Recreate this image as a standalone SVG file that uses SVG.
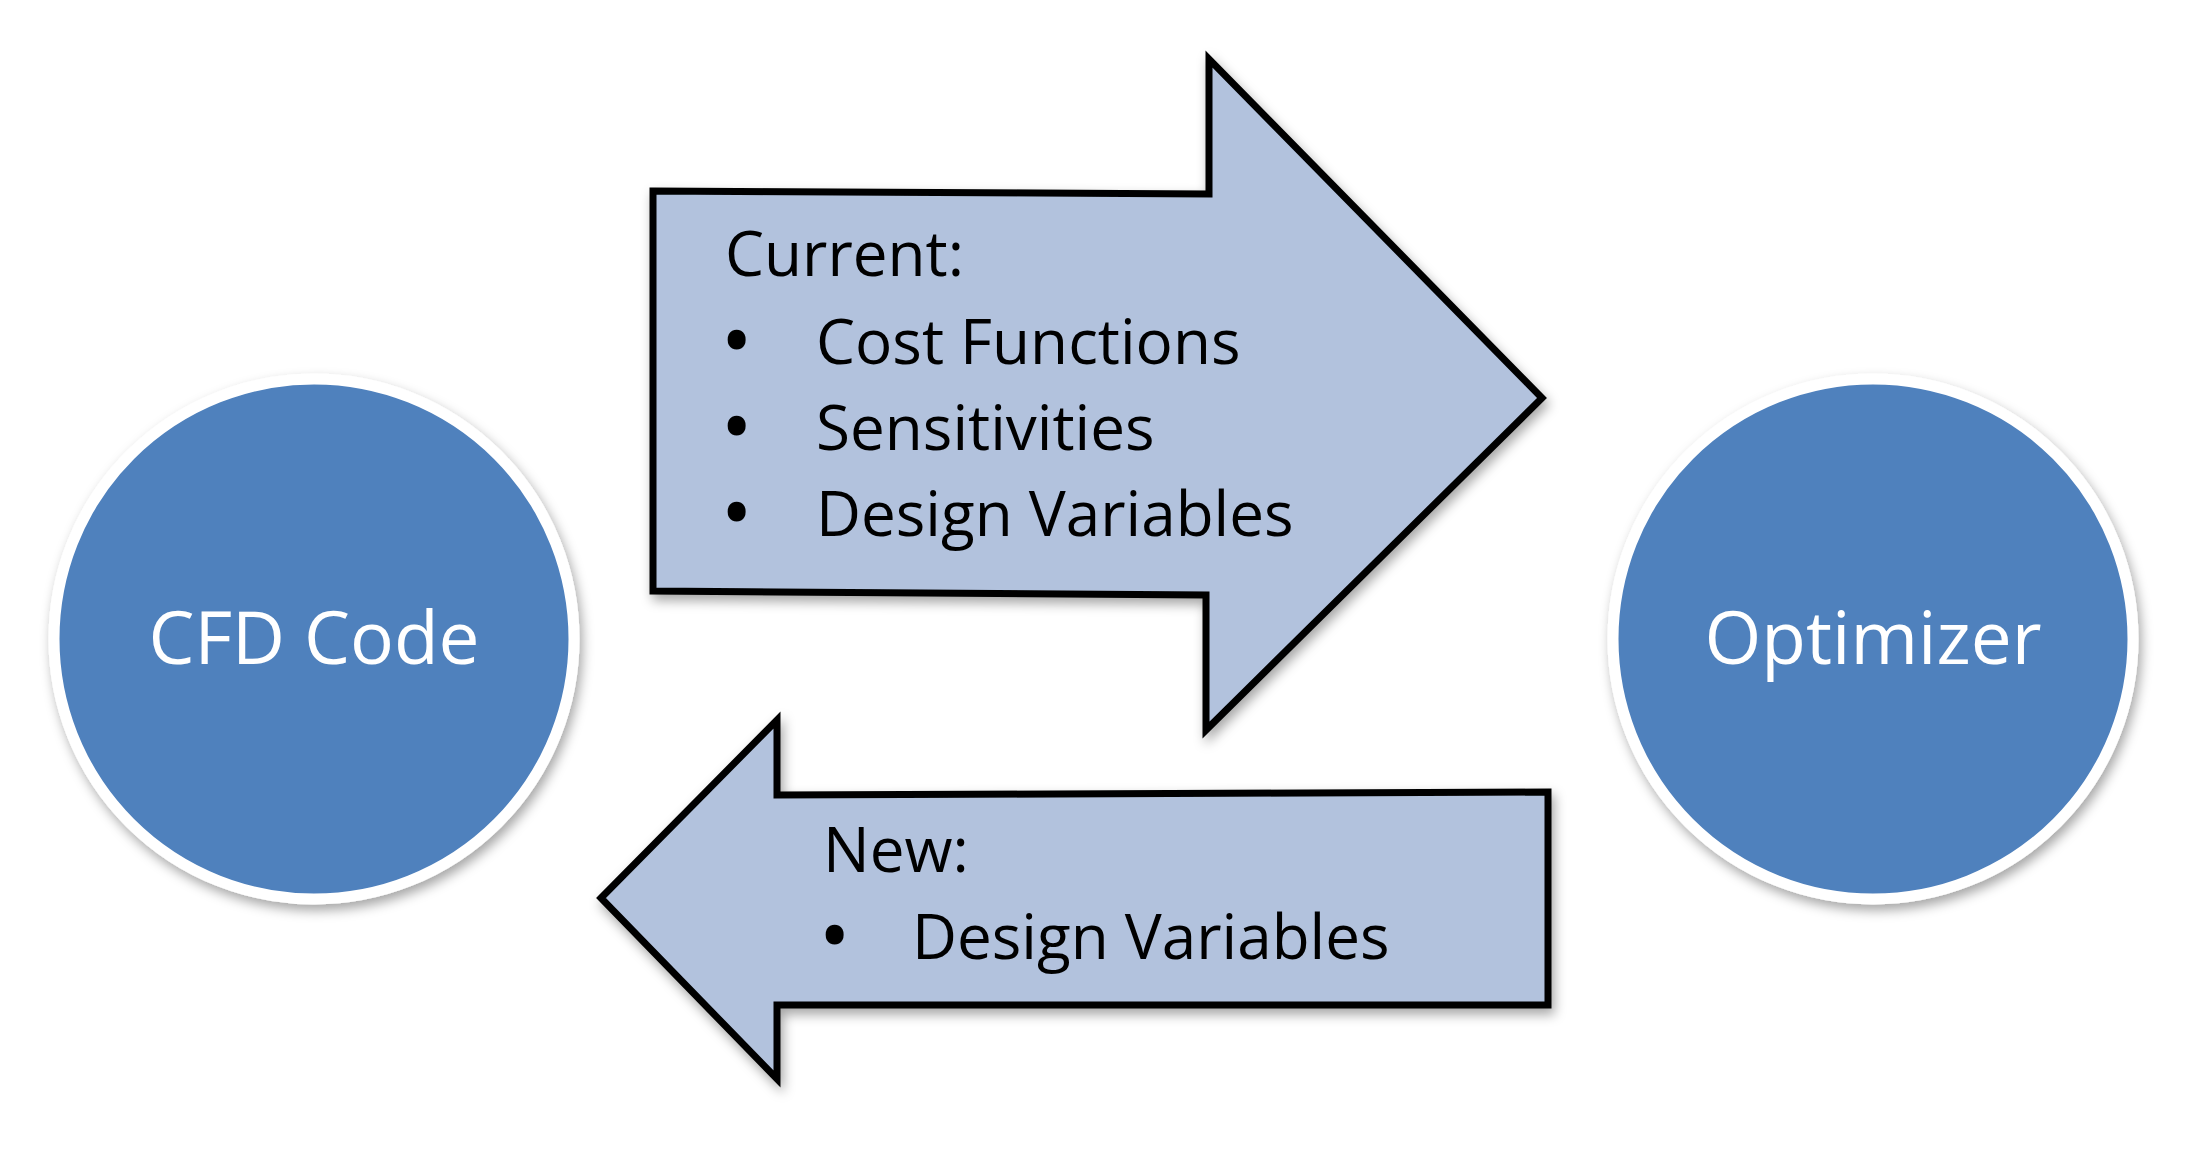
<svg xmlns="http://www.w3.org/2000/svg" width="2206" height="1152" viewBox="0 0 2206 1152">
<defs>
<filter id="sh" x="-20%" y="-20%" width="140%" height="140%">
<feDropShadow dx="3" dy="6" stdDeviation="6" flood-color="#000" flood-opacity="0.35"/>
</filter>
<style>
.circ{fill:#4F81BD;stroke:#FFFFFF;stroke-width:11;filter:url(#sh)}
.arr{fill:#B2C2DD;stroke:#000000;stroke-width:7;stroke-linejoin:miter;filter:url(#sh)}
.lbl{font-family:"Open Sans","Noto Sans",sans-serif;fill:#FFFFFF;font-size:73px;text-anchor:middle}
.txt{font-family:"Open Sans","Noto Sans",sans-serif;fill:#000000;font-size:62px}
.bul{font-family:"Open Sans","Noto Sans",sans-serif;fill:#000000;stroke:#000000;stroke-width:5;font-size:62px}
</style>
</defs>
<rect width="2206" height="1152" fill="#FFFFFF"/>
<g id="cfd-code">
<circle class="circ" cx="314" cy="639" r="260"/>
<text class="lbl" x="314" y="664">CFD Code</text>
</g>
<g id="optimizer">
<circle class="circ" cx="1873" cy="639" r="260"/>
<text class="lbl" x="1873" y="664">Optimizer</text>
</g>
<g id="connectors">
<g id="arrow-current">
<polygon class="arr" points="653,191 1209,194 1209,59 1542,398 1206,730 1206,595 653,591"/>
<text class="txt" x="725" y="276">Current:</text>
<text class="bul" x="725" y="362">•</text>
<text class="txt" x="816" y="364">Cost Functions</text>
<text class="bul" x="725" y="448">•</text>
<text class="txt" x="816" y="450">Sensitivities</text>
<text class="bul" x="725" y="534">•</text>
<text class="txt" x="816" y="536">Design Variables</text>
</g>
<g id="arrow-new">
<polygon class="arr" points="601,898 777,720 777,795 1548,792 1548,1005 777,1005 777,1079"/>
<text class="txt" x="823" y="872">New:</text>
<text class="bul" x="823" y="957">•</text>
<text class="txt" x="912" y="959">Design Variables</text>
</g>
</g>
</svg>
